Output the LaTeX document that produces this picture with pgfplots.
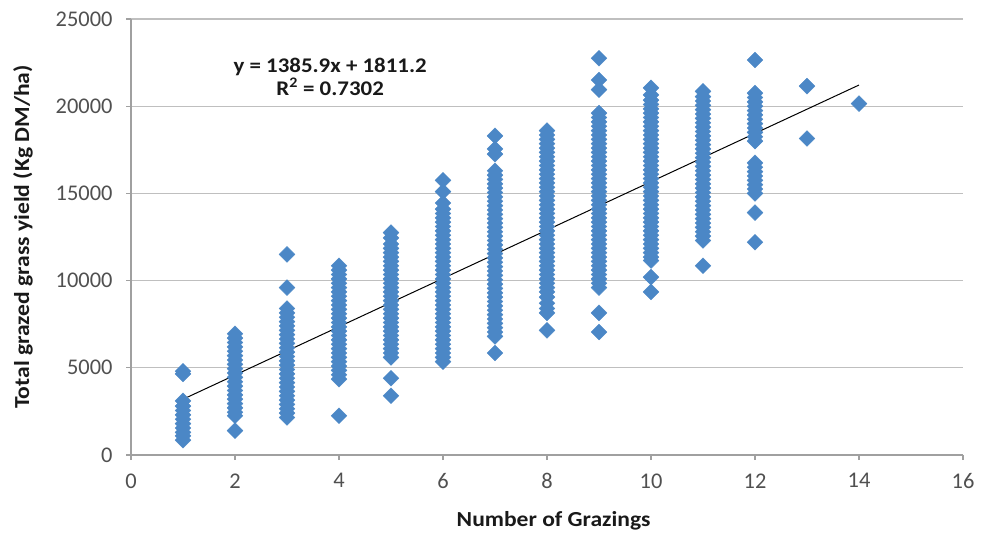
\documentclass[border=0pt]{standalone}
\usepackage{pgfplots}
\pgfplotsset{compat=1.18}
\usepackage{pgfplotstable}
\usepackage{fontspec}
\setmainfont{Carlito}
\newfontfamily\labfont[FakeStretch=1.1]{Carlito}
\definecolor{ptblue}{RGB}{75,135,198}
\definecolor{gridgray}{RGB}{191,191,191}
\definecolor{axgray}{RGB}{160,160,160}
\definecolor{lblgray}{RGB}{80,80,80}

\pgfplotstableread{
x y
1 4800
1 4650
1 3100
1 2800
1 2550
1 2300
1 2050
1 1800
1 1550
1 1300
1 1100
1 850
2 6950
2 6700
2 6450
2 6200
2 5950
2 5700
2 5450
2 5200
2 4950
2 4700
2 4450
2 4200
2 3950
2 3700
2 3450
2 3200
2 2950
2 2700
2 2450
2 2250
2 1400
3 11500
3 9600
3 8400
3 8150
3 7900
3 7650
3 7400
3 7150
3 6900
3 6650
3 6400
3 6150
3 5900
3 5650
3 5400
3 5150
3 4900
3 4650
3 4400
3 4150
3 3900
3 3650
3 3400
3 3150
3 2900
3 2650
3 2400
3 2150
4 10850
4 10600
4 10350
4 10100
4 9850
4 9600
4 9350
4 9100
4 8850
4 8600
4 8350
4 8100
4 7850
4 7600
4 7350
4 7100
4 6850
4 6600
4 6350
4 6100
4 5850
4 5600
4 5350
4 5100
4 4850
4 4600
4 4350
4 2250
5 12750
5 12450
5 12100
5 11850
5 11600
5 11350
5 11100
5 10850
5 10600
5 10350
5 10100
5 9850
5 9600
5 9350
5 9100
5 8850
5 8600
5 8350
5 8100
5 7850
5 7600
5 7350
5 7100
5 6850
5 6600
5 6350
5 6100
5 5850
5 5600
5 4400
5 3400
6 15750
6 15100
6 14450
6 14100
6 13850
6 13600
6 13350
6 13100
6 12850
6 12600
6 12350
6 12100
6 11850
6 11600
6 11350
6 11100
6 10850
6 10600
6 10350
6 10100
6 9850
6 9600
6 9350
6 9100
6 8850
6 8600
6 8350
6 8100
6 7850
6 7600
6 7350
6 7100
6 6850
6 6600
6 6350
6 6100
6 5850
6 5600
6 5350
7 18300
7 17550
7 17250
7 16300
7 16050
7 15800
7 15550
7 15300
7 15050
7 14800
7 14550
7 14300
7 14050
7 13800
7 13550
7 13300
7 13050
7 12800
7 12550
7 12300
7 12050
7 11800
7 11550
7 11300
7 11050
7 10800
7 10550
7 10300
7 10050
7 9800
7 9550
7 9300
7 9050
7 8800
7 8550
7 8300
7 8050
7 7800
7 7550
7 7300
7 7050
7 6800
7 5850
8 18600
8 18350
8 18100
8 17850
8 17600
8 17350
8 17100
8 16850
8 16600
8 16350
8 16100
8 15850
8 15600
8 15350
8 15100
8 14850
8 14600
8 14350
8 14100
8 13850
8 13600
8 13350
8 13100
8 12850
8 12600
8 12350
8 12100
8 11850
8 11600
8 11350
8 11100
8 10850
8 10600
8 10350
8 10100
8 9850
8 9600
8 9350
8 9050
8 8700
8 8400
8 8150
8 7150
9 22750
9 21500
9 20950
9 19600
9 19350
9 19100
9 18850
9 18600
9 18350
9 18100
9 17850
9 17600
9 17350
9 17100
9 16850
9 16600
9 16350
9 16100
9 15850
9 15600
9 15350
9 15100
9 14850
9 14600
9 14350
9 14100
9 13850
9 13600
9 13350
9 13100
9 12850
9 12600
9 12350
9 12100
9 11850
9 11600
9 11350
9 11100
9 10850
9 10600
9 10350
9 10100
9 9850
9 9600
9 8150
9 7050
10 21050
10 20650
10 20350
10 20100
10 19850
10 19600
10 19350
10 19100
10 18850
10 18600
10 18350
10 18100
10 17850
10 17600
10 17350
10 17100
10 16850
10 16600
10 16350
10 16100
10 15850
10 15600
10 15350
10 15100
10 14850
10 14600
10 14350
10 14100
10 13850
10 13600
10 13350
10 13100
10 12850
10 12600
10 12350
10 12100
10 11850
10 11600
10 11350
10 11150
10 10200
10 9350
11 20850
11 20550
11 20300
11 20050
11 19800
11 19550
11 19300
11 19050
11 18800
11 18550
11 18300
11 18050
11 17800
11 17550
11 17300
11 17050
11 16800
11 16550
11 16300
11 16050
11 15800
11 15550
11 15300
11 15050
11 14800
11 14550
11 14300
11 14050
11 13800
11 13550
11 13300
11 13050
11 12800
11 12550
11 12300
11 10850
12 22650
12 20750
12 20500
12 20250
12 20000
12 19750
12 19500
12 19250
12 19000
12 18750
12 18500
12 18250
12 18000
12 16750
12 16500
12 16250
12 16000
12 15750
12 15500
12 15250
12 15000
12 13900
12 12200
13 21150
13 18150
14 20150
}\grazing

\begin{document}
\begin{tikzpicture}
\begin{axis}[
  name=main,
  scale only axis,
  width=832bp, height=436bp,
  xmin=0, xmax=16, ymin=0, ymax=25000,
  xtick={0,2,...,16},
  ytick={0,5000,10000,15000,20000,25000},
  axis x line*=bottom, axis y line*=left,
  axis line style={axgray, line width=1.2bp},
  ymajorgrids, grid style={gridgray, line width=1.2bp},
  tick align=outside, major tick length=5bp,
  tick style={axgray, line width=1.2bp},
  scaled y ticks=false,
  /pgf/number format/assume math mode=true,
  /pgf/number format/1000 sep={},
  ticklabel style={font=\fontsize{22.5}{22.5}\selectfont, text=lblgray},
  xticklabel style={yshift=-10bp},
  yticklabel style={xshift=-10bp},
  xlabel={Number of Grazings},
  ylabel={Total grazed grass yield (Kg DM/ha)},
  label style={font=\labfont\bfseries\fontsize{21.5}{22}\selectfont, text=black!90},
  xlabel style={at={(axis description cs:0.508,0)}, anchor=center, yshift=-66bp},
  ylabel style={at={(axis description cs:0,0.5)}, anchor=center, yshift=108bp},
  clip=false,
]
\addplot[only marks, mark=square*, mark size=5.6bp,
  mark options={rotate=45, fill=ptblue, draw=ptblue}] table[x=x, y=y] {\grazing};
\addplot[black, line width=1bp] coordinates {(1,3197.1) (14,21214.3)};
\node[font=\labfont\bfseries\fontsize{20.9}{23}\selectfont, align=center, text=black!90]
  at (axis cs:3.83,21700) {y = 1385.9x + 1811.2\\R\textsuperscript{2} = 0.7302};
\end{axis}
\pgfresetboundingbox
\path[use as bounding box] ([shift={(-131bp,-78bp)}]main.south west) rectangle ([shift={(28bp,19bp)}]main.north east);
\end{tikzpicture}
\end{document}
